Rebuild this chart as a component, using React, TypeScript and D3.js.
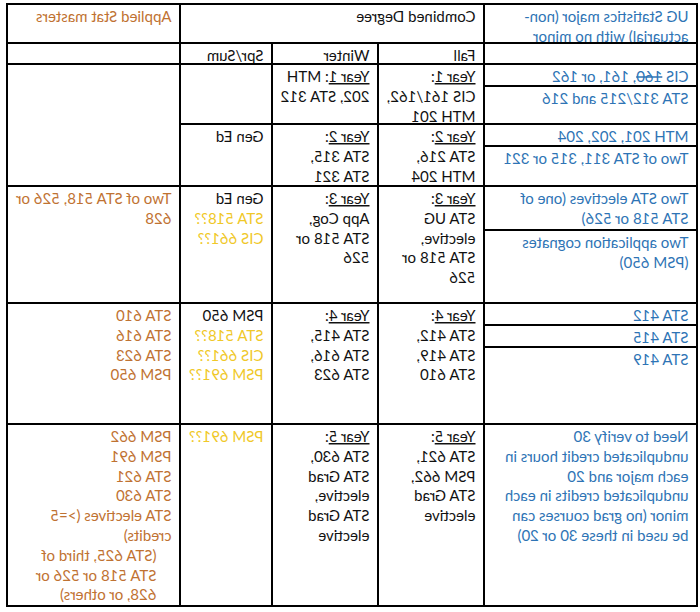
import React from "react";
import * as d3 from "d3";

// ---------- data ----------
const headerUG = ["UG Statistics major (non-", "actuarial) with no minor"];
const headerCombined = "Combined Degree";
const headerMasters = "Applied Stat masters";
const terms = ["Fall", "Winter", "Spr/Sum"];
const years = ["Year 1", "Year 2", "Year 3", "Year 4", "Year 5"];

// first entry: text that follows the underlined "Year N" label on the same line
const fallCourses = [
  [":", "CIS 161/162,", "MTH 201"],
  [":", "STA 216,", "MTH 204"],
  [":", "STA UG", "elective,", "STA 518 or", "526"],
  [":", "STA 412,", "STA 419,", "STA 610"],
  [":", "STA 621,", "PSM 662,", "STA Grad", "elective"],
];
const winterCourses = [
  [": MTH", "202, STA 312"],
  [":", "STA 315,", "STA 321"],
  [":", "App Cog,", "STA 518 or", "526"],
  [":", "STA 415,", "STA 616,", "STA 623"],
  [":", "STA 630,", "STA Grad", "elective,", "STA Grad", "elective"],
];
// [text, tentative?]
const sprSumCourses: [string, boolean][][] = [
  [],
  [["Gen Ed", false]],
  [["Gen Ed", false], ["STA 518??", true], ["CIS 661??", true]],
  [["PSM 650", false], ["STA 518??", true], ["CIS 661??", true], ["PSM 691??", true]],
  [["PSM 691??", true]],
];
// UG requirements per year, split into sub-cells
const ugRequirements: string[][][] = [
  [["CIS 160, 161, or 162"], ["STA 312/215 and 216"]],
  [["MTH 201, 202, 204"], ["Two of STA 311, 315 or 321"]],
  [["Two STA electives (one of", "STA 518 or 526)"], ["Two application cognates", "(PSM 650)"]],
  [["STA 412"], ["STA 415"], ["STA 419"]],
  [[
    "Need to verify 30",
    "unduplicated credit hours in",
    "each major and 20",
    "unduplicated credits in each",
    "minor (no grad courses can",
    "be used in these 30 or 20)",
  ]],
];
const struckNumber = "160";
// masters: year 1 and 2 are one merged empty cell
const mastersCourses: string[][] = [
  ["Two of STA 518, 526 or", "628"],
  ["STA 610", "STA 616", "STA 623", "PSM 650"],
  ["PSM 662", "PSM 691", "STA 621", "STA 630", "STA electives (>=5", "credits)",
   "(STA 625, third of", "STA 518 or 526 or", "628, or others)"],
];
const mastersIndentFrom = 6; // lines from this index on are indented (year 5)

// ---------- layout ----------
const W = 700, H = 612;
const colWidths = [213, 106, 106, 92, 173];
const rowHeights = [39, 21, 60, 62, 117, 121, 182];
const X0 = 3, Y0 = 4;
const PAD = 8.5;
const LINE = 19.8;
const FIRST = 18;
const FONT = "Lato, 'Open Sans', sans-serif";
const FS = 15;

const colors = { black: "#111", ug: "#2E74B5", masters: "#BF7232", tentative: "#F0C828" };

const colEdges = [X0, ...d3.cumsum(colWidths).map((v) => X0 + v)];
const rowEdges = [Y0, ...d3.cumsum(rowHeights).map((v) => Y0 + v)];
const x = (i: number) => colEdges[i];
const y = (i: number) => rowEdges[i];

function Lines({ col, top, lines, color, indentFrom = 999 }: any) {
  return (
    <>
      {lines.map((t: any, i: number) => (
        <text key={i} x={x(col) + PAD + (i >= indentFrom ? 15 : 0)} y={top + FIRST + i * LINE} fill={color}>
          {t}
        </text>
      ))}
    </>
  );
}

export default function App() {
  const right = x(5), bottom = y(7);
  const hLines: [number, number, number][] = [];
  const vLines: [number, number, number][] = [];
  hLines.push([y(1), x(0), right]);
  hLines.push([y(2), x(0), right]);
  hLines.push([y(3), x(0), x(4)]);
  for (let r = 4; r <= 6; r++) hLines.push([y(r), x(0), right]);
  vLines.push([x(1), y(0), bottom]);
  vLines.push([x(2), y(1), bottom]);
  vLines.push([x(3), y(1), bottom]);
  vLines.push([x(4), y(0), bottom]);

  const ugCells: React.ReactNode[] = [];
  ugRequirements.forEach((subs, yi) => {
    let top = y(yi + 2);
    subs.forEach((lines, si) => {
      if (si > 0) hLines.push([top, x(0), x(1)]);
      lines.forEach((t, li) => {
        const ty = top + FIRST + li * LINE;
        if (t.includes(struckNumber + ",")) {
          const [a, b] = t.split(struckNumber);
          ugCells.push(
            <text key={`ug${yi}-${si}-${li}`} x={x(0) + PAD} y={ty} fill={colors.ug}>
              {a}
              <tspan style={{ textDecoration: "line-through" }}>{struckNumber}</tspan>
              {b}
            </text>
          );
        } else {
          ugCells.push(
            <text key={`ug${yi}-${si}-${li}`} x={x(0) + PAD} y={ty} fill={colors.ug}>{t}</text>
          );
        }
      });
      top += lines.length * 20 + (lines.length > 1 ? 4 : 2);
    });
  });

  const termCell = (col: number, courses: string[][]) =>
    courses.map((c, yi) => {
      const top = y(yi + 2);
      return (
        <g key={`t${col}-${yi}`}>
          <text x={x(col) + PAD} y={top + FIRST} fill={colors.black}>
            <tspan style={{ textDecoration: "underline" }}>{years[yi]}</tspan>
            {c[0]}
          </text>
          {c.slice(1).map((t, i) => (
            <text key={i} x={x(col) + PAD} y={top + FIRST + (i + 1) * LINE} fill={colors.black}>{t}</text>
          ))}
        </g>
      );
    });

  return (
    <svg width={W} height={H} style={{ position: "absolute", left: 0, top: 0, background: "#fff" }}
      fontFamily={FONT} fontSize={FS}>
      <rect width={W} height={H} fill="#fff" />
      <g transform={`translate(${W},0) scale(-1,1)`}>
        <Lines col={0} top={y(0)} lines={headerUG} color={colors.ug} />
        <Lines col={1} top={y(0)} lines={[headerCombined]} color={colors.black} />
        <Lines col={4} top={y(0)} lines={[headerMasters]} color={colors.masters} />
        {terms.map((t, i) => (
          <Lines key={t} col={i + 1} top={y(1)} lines={[t]} color={colors.black} />
        ))}
        {ugCells}
        {termCell(1, fallCourses)}
        {termCell(2, winterCourses)}
        {sprSumCourses.map((c, yi) =>
          c.map(([t, tent], i) => (
            <text key={`s${yi}-${i}`} x={x(3) + PAD} y={y(yi + 2) + FIRST + i * LINE}
              fill={tent ? colors.tentative : colors.black}>{t}</text>
          ))
        )}
        {mastersCourses.map((c, i) => (
          <Lines key={`m${i}`} col={4} top={y(i + 4)} lines={c} color={colors.masters}
            indentFrom={i === 2 ? mastersIndentFrom : 999} />
        ))}
        <g stroke="#000" strokeWidth={1.3} shapeRendering="crispEdges">
          <rect x={x(0)} y={y(0)} width={right - x(0)} height={bottom - y(0)} fill="none" />
          {hLines.map(([yy, a, b], i) => (
            <line key={`h${i}`} x1={a} x2={b} y1={yy} y2={yy} />
          ))}
          {vLines.map(([xx, a, b], i) => (
            <line key={`v${i}`} x1={xx} x2={xx} y1={a} y2={b} />
          ))}
        </g>
      </g>
    </svg>
  );
}
